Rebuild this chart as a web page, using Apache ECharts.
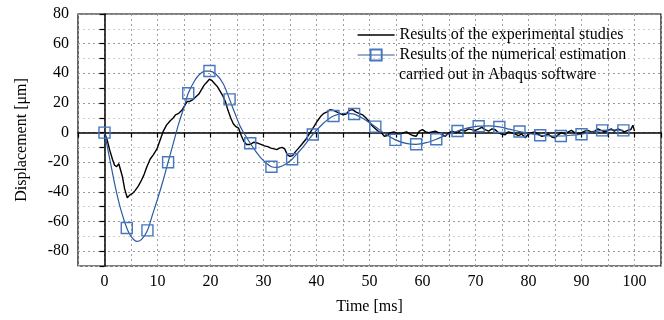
<!DOCTYPE html>
<html>
<head>
<meta charset="utf-8">
<script src="https://cdn.jsdelivr.net/npm/echarts@6/dist/echarts.min.js"></script>
<style>
  html, body { margin: 0; padding: 0; background: #fff; }
  #chart { width: 664px; height: 320px; }
</style>
</head>
<body>
<div id="chart"></div>
<script>
// experimental curve (time ms, displacement um)
const expTime = [0, 0.5, 1, 1.5, 1.9, 2.3, 2.7, 3.0, 3.4, 3.8, 4.3, 4.8, 5.3, 5.8, 6.4, 7.0, 7.5, 8.0, 8.6, 9.2,
  9.9, 10.5, 11.1, 11.7, 12.4, 13.0, 13.4, 14.0, 14.6, 15.1, 15.6, 16.1, 16.6, 17.2, 17.8, 18.3, 18.8, 19.3, 19.8, 20.3,
  20.8, 21.3, 21.8, 22.3, 22.8, 23.3, 23.8, 24.3, 24.8, 25.3, 25.8, 26.3, 26.8, 27.5, 28.2, 28.8, 29.5, 30.2, 30.8, 31.4,
  32.0, 32.5, 33.0, 33.5, 34.0, 34.5, 35.0, 35.5, 36.0, 36.5, 37.2, 38.0, 38.8, 39.6, 40.2, 40.8, 41.4, 42.0, 42.6, 43.2,
  43.8, 44.4, 45.0, 45.6, 46.2, 46.8, 47.4, 48.0, 48.7, 49.3, 49.8, 50.4, 51.0, 51.6, 52.2, 52.8, 53.4, 54.0, 54.6, 55.2,
  55.8, 56.4, 57.0, 57.6, 58.2, 58.8, 59.4, 60.0, 60.6, 61.2, 61.8, 62.4, 63.0, 63.6, 64.3, 65.0, 65.6, 66.2, 66.8, 67.4,
  68.0, 68.7, 69.3, 70.0, 70.6, 71.2, 71.8, 72.5, 73.1, 73.7, 74.3, 74.9, 75.6, 76.2, 76.8, 77.5, 78.1, 78.7, 79.4, 80.0,
  80.6, 81.2, 81.8, 82.5, 83.1, 83.7, 84.4, 85.0, 85.6, 86.2, 86.9, 87.5, 88.1, 88.7, 89.4, 90.0, 90.6, 91.2, 91.8, 92.5,
  93.1, 93.7, 94.4, 95.0, 95.6, 96.2, 96.9, 97.5, 98.1, 98.7, 99.3, 99.7, 100];
const expDisp = [0, -5, -12, -18, -22, -23, -21, -22, -30, -38, -44, -42, -41, -39, -36, -32, -28, -23, -18, -15,
  -11, -5, 1, 5, 8, 10, 12, 13, 15, 18, 21, 21, 22, 24, 26, 29, 32, 34, 36, 35,
  33, 31, 28, 25, 21, 15, 10, 6, 4, 3, -2, -6, -8, -8, -6.5, -7, -8, -9, -9.5, -10.5,
  -11, -11.5, -10.5, -10, -11, -15, -16, -15.5, -13, -11, -8, -4.5, 0, 4.5, 8, 11, 13, 14, 15.5, 15,
  14, 13, 12, 12.5, 15, 15.5, 14, 13, 12, 10, 8, 5, 3, 1, 0, -2.5, -2, 0, 0.5, -0.5,
  -1, 0, 0.5, -1, -2, -2.5, 1, 2, 0.5, 0, 0.5, 1, 0, -1, -2.5, 0, 1, 0, 0.5, 2,
  1, 2.5, 2, 1.5, 2.5, 3.5, 2, 1, 2.5, 2, 0, -1, -1.5, 0.5, 0, -1, -2, -1, -3.5, -1,
  0, 0.5, -1, -2.5, -2, -1, -3, -3.5, -1.5, 0, -1, 0.5, 1.5, 0, -1, 0, 1, 1.5, 0.5, 1,
  2.5, 1.5, 0.5, 1.5, 2.5, 1, 2.5, 1.5, 0.5, 1.5, 2, 5, 1];

// numerical estimation (Abaqus) - marker points
const numTime = [0, 4.2, 8.1, 12, 15.8, 19.8, 23.6, 27.5, 31.5, 35.4, 39.3, 43.2, 47.1, 51.1, 54.9, 58.8, 62.6,
  66.6, 70.6, 74.5, 78.3, 82.2, 86.1, 90, 93.9, 97.9];
const numDisp = [0, -64.4, -66, -20, 26.5, 41.5, 22.4, -7.2, -23, -18, -1.3, 11.2, 12.5, 4, -4.9, -7.9, -4.5,
  1.1, 4.3, 3.8, 0.7, -1.8, -2.3, -1.1, 1.5, 1.5];

// numerical estimation - interpolated curve as drawn between the markers
const curveTime = [0, 1, 2, 3, 4.2, 5, 6.1, 7, 8.1, 9, 10, 11, 12, 13, 14, 15, 15.8, 17, 18, 19, 19.8, 21, 22.4, 23.6,
  24.5, 25.5, 26.5, 27.5, 28.5, 29.5, 30.5, 31.5, 32.5, 33.5, 34.5, 35.4, 36.4, 37.4, 38.4, 39.3, 41.2, 43.2, 45.2, 47.1,
  49, 51.1, 53, 54.9, 56.9, 58.8, 60.7, 62.6, 64.6, 66.6, 68.6, 70.6, 72.5, 74.5, 76.4, 78.3, 80.3, 82.2, 84.2, 86.1,
  88, 90, 92, 93.9, 96, 97.9];
const curveDisp = [0, -18, -36, -51, -64.4, -70, -73.4, -72, -66, -56, -45, -33, -20, -7, 6, 17, 26.5, 35, 39.5, 41.5, 41.5, 39.5, 33, 22.4,
  14, 5, -1.5, -7.2, -12.5, -17, -20.5, -23, -23.5, -22.5, -20.5, -18, -14, -10, -5.5, -1.3, 6, 11.2, 13, 12.5,
  9, 4, -1, -4.9, -7.3, -7.9, -6.8, -4.5, -1.5, 1.1, 3.2, 4.3, 4.5, 3.8, 2.3, 0.7, -0.8, -1.8, -2.3, -2.3,
  -1.8, -1.1, 0.3, 1.5, 1.8, 1.5];

const seriesNames = ['Results of the experimental studies', 'Results of the numerical estimation'];
const legendExtraLine = 'carried out in Abaqus software';

const font = '"Liberation Serif", "Times New Roman", serif';
const blue = '#2c5aa0';

const chart = echarts.init(document.getElementById('chart'));

chart.setOption({
  animation: false,
  textStyle: { fontFamily: font },
  grid: {
    left: 78, right: 1, top: 14, bottom: 53,
    show: true, borderColor: '#000', borderWidth: 1.2
  },
  legend: {
    left: 352, top: 20,
    orient: 'vertical',
    itemWidth: 37, itemHeight: 14, itemGap: 0,
    textStyle: { fontFamily: font, fontSize: 16, color: '#000', lineHeight: 20 },
    data: [
      { name: seriesNames[0], icon: 'path://M0,0h37v1.4h-37z' },
      { name: seriesNames[1], lineStyle: { color: blue, width: 1.2, opacity: 1 } }
    ]
  },
  graphic: [{
    type: 'text', left: 399, top: 67,
    style: { text: legendExtraLine, font: '16px ' + font, fill: '#000' }
  }],
  xAxis: {
    type: 'value', min: -5, max: 105, interval: 5,
    name: 'Time [ms]', nameLocation: 'middle', nameGap: 33,
    nameTextStyle: { fontFamily: font, fontSize: 16, color: '#000' },
    axisLine: { lineStyle: { color: '#000', width: 1.5 } },
    axisTick: { length: 5, lineStyle: { color: '#000', width: 1.2 } },
    axisLabel: {
      fontFamily: font, fontSize: 16, color: '#000', margin: 8,
      formatter: v => (v % 10 === 0 && v >= 0 && v <= 100) ? String(v) : ''
    },
    splitLine: { show: true, lineStyle: { type: [2, 3], color: '#a0a0a0', width: 1 } }
  },
  yAxis: {
    type: 'value', min: -90, max: 80, interval: 10,
    name: 'Displacement [\u03bcm]', nameLocation: 'middle', nameGap: 48,
    nameTextStyle: { fontFamily: font, fontSize: 16, color: '#000' },
    axisLine: { show: true, lineStyle: { color: '#000', width: 1.5 } },
    axisTick: { show: true, length: 5, lineStyle: { color: '#000', width: 1.2 } },
    axisLabel: {
      fontFamily: font, fontSize: 16, color: '#000', margin: 9,
      formatter: v => (v % 20 === 0) ? String(v) : ''
    },
    splitLine: { show: true, lineStyle: { type: [2, 3], color: ['#cfcfcf', '#999'], width: 1 } }
  },
  series: [
    {
      name: seriesNames[0],
      type: 'line',
      symbol: 'none',
      data: expTime.map((t, i) => [t, expDisp[i]]),
      lineStyle: { color: '#000', width: 1.4 },
      itemStyle: { color: '#000' },
      z: 2
    },
    {
      // markers (first series with this name gives the legend icon)
      name: seriesNames[1],
      type: 'line',
      symbol: 'rect',
      symbolSize: 11,
      data: numTime.map((t, i) => [t, numDisp[i]]),
      lineStyle: { color: blue, width: 1.2, opacity: 0 },
      itemStyle: { color: 'rgba(255,255,255,0)', borderColor: '#4677bf', borderWidth: 1.4 },
      z: 4
    },
    {
      name: seriesNames[1],
      type: 'line',
      symbol: 'none',
      smooth: 0.3,
      data: curveTime.map((t, i) => [t, curveDisp[i]]),
      lineStyle: { color: blue, width: 1.2 },
      itemStyle: { color: blue },
      z: 3
    }
  ]
});
</script>
</body>
</html>
